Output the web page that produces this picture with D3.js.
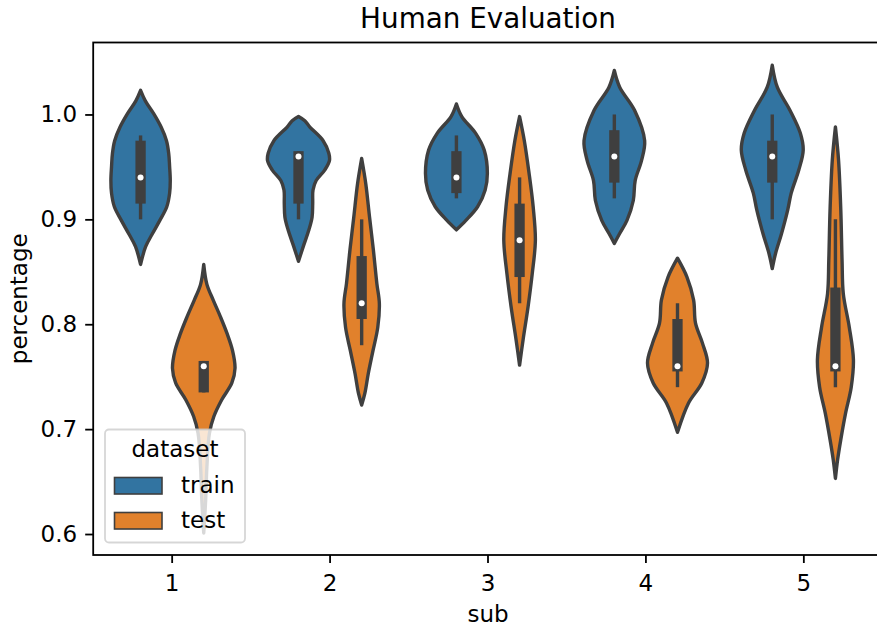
<!DOCTYPE html>
<html>
<head>
<meta charset="utf-8">
<script src="https://cdn.jsdelivr.net/npm/d3@7"></script>
<style>
  body { margin: 0; background: #fff; }
  svg { display: block; font-family: "DejaVu Sans", sans-serif; }
</style>
</head>
<body>
<div id="chart"></div>
<script>
// categories and hue groups
var categories = ["1", "2", "3", "4", "5"];
var hues = ["train", "test"];
var yTicks = [0.6, 0.7, 0.8, 0.9, 1.0];

// violin outlines: [value, relative density]
var trainProfiles = [
  [[1.023, 0], [1.013, 0.15], [1.001, 0.41], [0.988, 0.65], [0.975, 0.82], [0.963, 0.89], [0.950, 0.92], [0.937, 0.94], [0.925, 0.92], [0.912, 0.83], [0.899, 0.61], [0.886, 0.37], [0.874, 0.16], [0.857, 0]],
  [[0.998, 0], [0.994, 0.2], [0.988, 0.36], [0.975, 0.78], [0.963, 0.96], [0.956, 0.98], [0.947, 0.83], [0.937, 0.56], [0.928, 0.46], [0.915, 0.45], [0.902, 0.43], [0.890, 0.33], [0.874, 0.15], [0.860, 0]],
  [[1.010, 0], [0.998, 0.17], [0.982, 0.61], [0.966, 0.88], [0.944, 0.98], [0.928, 0.91], [0.912, 0.67], [0.899, 0.30], [0.890, 0]],
  [[1.042, 0], [1.026, 0.17], [1.004, 0.64], [0.975, 0.96], [0.956, 0.86], [0.937, 0.66], [0.918, 0.60], [0.899, 0.40], [0.886, 0.16], [0.877, 0]],
  [[1.047, 0], [1.026, 0.16], [1.004, 0.56], [0.982, 0.89], [0.966, 0.98], [0.947, 0.84], [0.925, 0.60], [0.909, 0.49], [0.886, 0.29], [0.867, 0.10], [0.853, 0]]
];
var testProfiles = [
  [[0.857, 0], [0.838, 0.10], [0.823, 0.30], [0.807, 0.53], [0.791, 0.74], [0.775, 0.91], [0.758, 0.99], [0.744, 0.89], [0.728, 0.57], [0.712, 0.32], [0.696, 0.18], [0.664, 0.10], [0.632, 0.06], [0.601, 0]],
  [[0.958, 0], [0.934, 0.13], [0.902, 0.25], [0.871, 0.37], [0.839, 0.48], [0.820, 0.56], [0.797, 0.51], [0.775, 0.36], [0.753, 0.21], [0.734, 0.10], [0.723, 0]],
  [[0.998, 0], [0.975, 0.15], [0.944, 0.30], [0.912, 0.43], [0.880, 0.50], [0.848, 0.40], [0.817, 0.27], [0.785, 0.11], [0.761, 0]],
  [[0.863, 0], [0.845, 0.30], [0.823, 0.51], [0.801, 0.57], [0.782, 0.79], [0.763, 0.95], [0.744, 0.77], [0.725, 0.35], [0.697, 0]],
  [[0.988, 0], [0.956, 0.10], [0.909, 0.17], [0.861, 0.21], [0.829, 0.25], [0.797, 0.44], [0.766, 0.57], [0.740, 0.50], [0.715, 0.32], [0.690, 0.17], [0.671, 0.07], [0.653, 0]]
];

// inner box: [whisker low, q1, median, q3, whisker high]
var trainBoxes = [
  [0.90, 0.915, 0.94, 0.975, 0.98],
  [0.90, 0.915, 0.96, 0.965, 0.965],
  [0.92, 0.925, 0.94, 0.965, 0.98],
  [0.92, 0.935, 0.96, 0.985, 1.00],
  [0.90, 0.935, 0.96, 0.975, 1.00]
];
var testBoxes = [
  [0.735, 0.735, 0.76, 0.765, 0.765],
  [0.78, 0.805, 0.82, 0.865, 0.90],
  [0.82, 0.845, 0.88, 0.915, 0.94],
  [0.74, 0.755, 0.76, 0.805, 0.82],
  [0.74, 0.755, 0.76, 0.835, 0.90]
];

var colors = ["#3274a1", "#e1812c"];
var lineGray = "#3f3f3f";

var W = 877, H = 631;
var margin = { left: 93.2, right: 882.8, top: 42.5, bottom: 555 };

var svg = d3.select("#chart").append("svg")
  .attr("width", W)
  .attr("height", H);

var x = d3.scaleBand().domain(categories).range([margin.left, margin.right]).padding(0);
var y = d3.scaleLinear().domain([0.58, 1.0686]).range([margin.bottom, margin.top]);
var dodge = d3.scaleOrdinal().domain(hues).range([-0.2, 0.2]);
var w = d3.scaleLinear().domain([0, 1]).range([0, 0.2 * x.step()]);

function cx(cat, hue) {
  return x(cat) + x.bandwidth() / 2 + dodge(hue) * x.step();
}

// build one list of violins
var violins = [];
categories.forEach(function (c, i) {
  violins.push({ cat: c, hue: "train", profile: trainProfiles[i], box: trainBoxes[i], color: colors[0] });
  violins.push({ cat: c, hue: "test", profile: testProfiles[i], box: testBoxes[i], color: colors[1] });
});

var plot = svg.append("g");

var g = plot.selectAll(".violin")
  .data(violins)
  .enter()
  .append("g")
  .attr("class", "violin");

g.append("path")
  .attr("d", function (d) {
    var c = cx(d.cat, d.hue);
    return d3.area()
      .curve(d3.curveCatmullRom)
      .y(function (p) { return y(p[0]); })
      .x0(function (p) { return c - w(p[1]); })
      .x1(function (p) { return c + w(p[1]); })(d.profile);
  })
  .attr("fill", function (d) { return d.color; })
  .attr("stroke", lineGray)
  .attr("stroke-width", 3.4)
  .attr("stroke-linejoin", "round");

// whisker
g.append("line")
  .attr("x1", function (d) { return cx(d.cat, d.hue); })
  .attr("x2", function (d) { return cx(d.cat, d.hue); })
  .attr("y1", function (d) { return y(d.box[0]); })
  .attr("y2", function (d) { return y(d.box[4]); })
  .attr("stroke", lineGray)
  .attr("stroke-width", 3.4);

// box
g.append("line")
  .attr("x1", function (d) { return cx(d.cat, d.hue); })
  .attr("x2", function (d) { return cx(d.cat, d.hue); })
  .attr("y1", function (d) { return y(d.box[1]); })
  .attr("y2", function (d) { return y(d.box[3]); })
  .attr("stroke", lineGray)
  .attr("stroke-width", 10.3);

// median
g.append("circle")
  .attr("cx", function (d) { return cx(d.cat, d.hue); })
  .attr("cy", function (d) { return y(d.box[2]); })
  .attr("r", 3)
  .attr("fill", "#fff");

// axes
var yAxis = svg.append("g")
  .attr("transform", "translate(" + margin.left + ",0)")
  .call(d3.axisLeft(y).tickValues(yTicks).tickFormat(d3.format(".1f")).tickSize(8).tickPadding(8).tickSizeOuter(0));

var xAxis = svg.append("g")
  .attr("transform", "translate(0," + margin.bottom + ")")
  .call(d3.axisBottom(x).tickSize(8).tickPadding(12).tickSizeOuter(0));

[yAxis, xAxis].forEach(function (a) {
  a.select(".domain").remove();
  a.selectAll(".tick line").attr("stroke", "#000").attr("stroke-width", 1.8);
  a.selectAll(".tick text")
    .attr("fill", "#000")
    .style("font-family", "DejaVu Sans")
    .style("font-size", "23px");
});

// spines
svg.append("rect")
  .attr("x", margin.left)
  .attr("y", margin.top)
  .attr("width", margin.right - margin.left)
  .attr("height", margin.bottom - margin.top)
  .attr("fill", "none")
  .attr("stroke", "#000")
  .attr("stroke-width", 1.8);

// title and labels
svg.append("text")
  .attr("x", (margin.left + margin.right) / 2)
  .attr("y", 28.3)
  .attr("text-anchor", "middle")
  .style("font-size", "27.8px")
  .text("Human Evaluation");

svg.append("text")
  .attr("transform", "translate(27," + ((margin.top + margin.bottom) / 2) + ") rotate(-90)")
  .attr("text-anchor", "middle")
  .style("font-size", "23px")
  .text("percentage");

svg.append("text")
  .attr("x", (margin.left + margin.right) / 2)
  .attr("y", 622)
  .attr("text-anchor", "middle")
  .style("font-size", "23px")
  .text("sub");

// legend
var legend = svg.append("g");
legend.append("rect")
  .attr("x", 105)
  .attr("y", 429.5)
  .attr("width", 140)
  .attr("height", 113)
  .attr("rx", 4)
  .attr("fill", "rgba(255,255,255,0.8)")
  .attr("stroke", "rgba(204,204,204,0.8)")
  .attr("stroke-width", 1.8);

legend.append("text")
  .attr("x", 175)
  .attr("y", 457)
  .attr("text-anchor", "middle")
  .style("font-size", "23px")
  .text("dataset");

var items = legend.selectAll(".item")
  .data(hues)
  .enter()
  .append("g")
  .attr("class", "item")
  .attr("transform", function (d, i) { return "translate(0," + (i * 35) + ")"; });

items.append("rect")
  .attr("x", 114.5)
  .attr("y", 477.5)
  .attr("width", 47.5)
  .attr("height", 16.5)
  .attr("fill", function (d, i) { return colors[i]; })
  .attr("stroke", lineGray)
  .attr("stroke-width", 1.6);

items.append("text")
  .attr("x", 181)
  .attr("y", 493)
  .style("font-size", "23px")
  .text(function (d) { return d; });
</script>
</body>
</html>
